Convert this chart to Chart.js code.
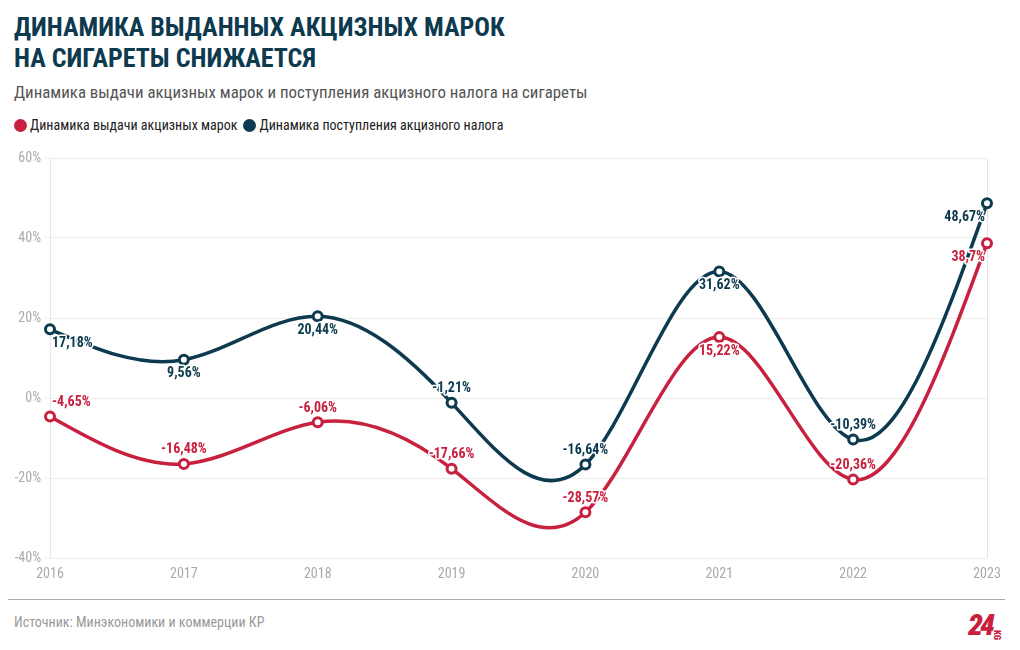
<!DOCTYPE html>
<html><head><meta charset="utf-8">
<script src="https://cdn.jsdelivr.net/npm/chart.js@4"></script>
<style>
html,body{margin:0;padding:0;background:#fff;width:1020px;height:650px;overflow:hidden;}
body{font-family:"Roboto Condensed","Liberation Sans Narrow","DejaVu Sans Condensed",sans-serif;position:relative;}
#title{position:absolute;left:14px;top:12px;font-size:26px;line-height:31px;font-weight:700;color:#0d3a4f;margin:0;}
#sub{position:absolute;left:14px;top:82px;font-size:16.85px;color:#555;}
#legend{position:absolute;left:14px;top:117px;font-size:14px;color:#222;display:flex;align-items:center;}
.dot{display:inline-block;width:13px;height:13px;border-radius:50%;margin-right:3px;}
.item{display:flex;align-items:center;margin-right:6px;}
#wrap{position:absolute;left:0;top:140px;width:1020px;height:455px;}
#rule{position:absolute;left:8px;top:599px;width:997px;height:1px;background:#aaa;}
#src{position:absolute;left:14px;top:614px;font-size:14px;color:#999;}
#logo{position:absolute;left:968px;top:611px;color:#c8203f;font-weight:900;font-style:italic;font-size:30px;line-height:28px;letter-spacing:-3px;}
#logo span{display:inline-block;font-size:9px;font-style:normal;letter-spacing:0;transform:rotate(90deg);vertical-align:top;margin-top:10px;margin-left:0px;}
</style></head>
<body>
<div id="title">ДИНАМИКА ВЫДАННЫХ АКЦИЗНЫХ МАРОК<br>НА СИГАРЕТЫ СНИЖАЕТСЯ</div>
<div id="sub">Динамика выдачи акцизных марок и поступления акцизного налога на сигареты</div>
<div id="legend"></div>
<div id="wrap"><canvas id="c"></canvas></div>
<div id="rule"></div>
<div id="src">Источник: Минэкономики и коммерции КР</div>
<div id="logo">24<span>KG</span></div>
<script>
const years = ["2016","2017","2018","2019","2020","2021","2022","2023"];
const stampsLabel = "Динамика выдачи акцизных марок";
const taxLabel = "Динамика поступления акцизного налога";
const stamps = [-4.65, -16.48, -6.06, -17.66, -28.57, 15.22, -20.36, 38.7];
const tax = [17.18, 9.56, 20.44, -1.21, -16.64, 31.62, -10.39, 48.67];
const yTicks = [-40, -20, 0, 20, 40, 60];

const RED = "#c8203f", BLUE = "#0d3a4f";
const FONT = '"Roboto Condensed","Liberation Sans Narrow","DejaVu Sans Condensed",sans-serif';

const lg = document.getElementById('legend');
[[stampsLabel, RED],[taxLabel, BLUE]].forEach(([t,c])=>{
  const d=document.createElement('div');d.className='item';
  d.innerHTML='<span class="dot" style="background:'+c+'"></span>'+t;lg.appendChild(d);
});

// label placement per series: 'a' above, 'b' below, 'r' starts right of point, 'l' ends left of point
const placeTax = ['br','b','b','a','a','b','a','bl'];
const placeStamps = ['ar','a','a','a','a','b','a','bl'];

const fmt = v => String(v).replace('.', ',') + '%';

// natural cubic spline control points (same as d3.curveNatural)
function naturalCP(x){
  const n = x.length - 1; const a=new Array(n), b=new Array(n), r=new Array(n); let m;
  a[0]=0; b[0]=2; r[0]=x[0]+2*x[1];
  for(let i=1;i<n-1;++i){a[i]=1;b[i]=4;r[i]=4*x[i]+2*x[i+1];}
  a[n-1]=2; b[n-1]=7; r[n-1]=8*x[n-1]+x[n];
  for(let i=1;i<n;++i){m=a[i]/b[i-1]; b[i]-=m; r[i]-=m*r[i-1];}
  a[n-1]=r[n-1]/b[n-1];
  for(let i=n-2;i>=0;--i) a[i]=(r[i]-a[i+1])/b[i];
  b[n-1]=(x[n]+a[n-1])/2;
  for(let i=0;i<n-1;++i) b[i]=2*x[i+1]-a[i+1];
  return [a,b];
}

const naturalPlugin = {
  id:'natural',
  beforeDatasetDraw(chart, args){
    const meta = args.meta;
    const line = meta.dataset; if(!line) return;
    line.updateControlPoints(chart.chartArea, meta.indexAxis);
    const pts = meta.data;
    const xs = pts.map(p=>p.x), ys = pts.map(p=>p.y);
    const [ax,bx] = naturalCP(xs), [ay,by] = naturalCP(ys);
    for(let i=0;i<pts.length-1;i++){
      pts[i].cp2x = ax[i]; pts[i].cp2y = ay[i];
      pts[i+1].cp1x = bx[i]; pts[i+1].cp1y = by[i];
    }
    pts[0].cp1x = pts[0].x; pts[0].cp1y = pts[0].y;
    const L = pts.length-1;
    pts[L].cp2x = pts[L].x; pts[L].cp2y = pts[L].y;
    line._path = undefined;
  }
};

const labelPlugin = {
  id:'labels',
  afterDatasetsDraw(chart){
    const ctx = chart.ctx;
    ctx.save();
    ctx.font = 'bold 14px ' + FONT;
    ctx.textBaseline = 'middle';
    ctx.lineJoin='round';
    chart.data.datasets.forEach((ds, di)=>{
      const meta = chart.getDatasetMeta(di);
      const pl = di===0 ? placeStamps : placeTax;
      meta.data.forEach((pt, i)=>{
        const p = pl[i];
        let x = pt.x, y = pt.y;
        let align='center';
        if (p[0]==='a') y -= 14; else y += 14;
        if (p[1]==='r'){align='left'; x += 2;}
        if (p[1]==='l'){align='right'; x -= 2;}
        ctx.textAlign = align;
        const t = fmt(ds.data[i]);
        ctx.strokeStyle='#fff'; ctx.lineWidth=3;
        ctx.strokeText(t,x,y);
        ctx.fillStyle = ds.borderColor;
        ctx.fillText(t,x,y);
      });
    });
    ctx.restore();
  }
};

const ds = (label, data, color) => ({
  label, data, borderColor: color, backgroundColor: '#fff',
  borderWidth: 3.5, tension: 0.4, pointRadius: 4.5, pointBorderWidth: 3,
  pointBackgroundColor:'#fff', pointBorderColor: color, clip:false
});

new Chart(document.getElementById('c'), {
  type:'line',
  data:{labels: years, datasets:[ds(stampsLabel, stamps, RED), ds(taxLabel, tax, BLUE)]},
  options:{
    responsive:true, maintainAspectRatio:false, animation:false,
    layout:{padding:{top:18,right:33,left:0,bottom:0}},
    plugins:{legend:{display:false}, tooltip:{enabled:false}},
    scales:{
      x:{
        offset:false,
        grid:{color:(c)=> (c.index===0||c.index===years.length-1)?'#e6e6e6':'rgba(0,0,0,0)', drawTicks:false},
        border:{display:false},
        ticks:{color:'#aaa', font:{family:FONT,size:14}, padding:8},
        afterFit(s){s.height=37;}
      },
      y:{
        min:-40, max:60,
        afterBuildTicks(s){s.ticks = yTicks.map(v=>({value:v}));},
        grid:{color:'#ececec', tickLength:5},
        border:{display:false},
        ticks:{color:'#aaa', font:{family:FONT,size:14}, padding:4, callback:v=>v+'%'},
        afterFit(s){s.width=50;}
      }
    }
  },
  plugins:[naturalPlugin, labelPlugin]
});
</script>
</body></html>
